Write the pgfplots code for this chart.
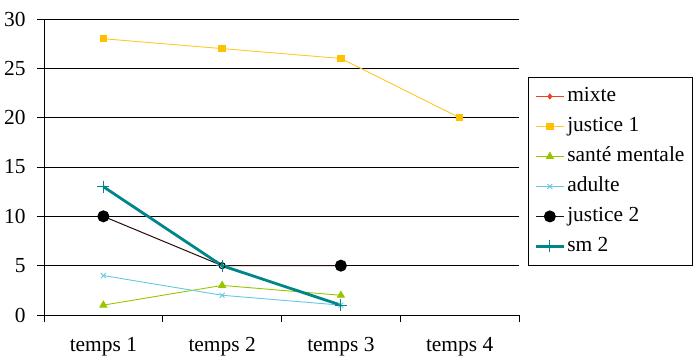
\documentclass[border=0pt]{standalone}
\usepackage{pgfplots}
\pgfplotsset{compat=1.18}
\usepackage{fontspec}
\setmainfont{Liberation Serif}
\definecolor{cmixte}{HTML}{F04020}
\definecolor{cjust}{HTML}{FFC000}
\definecolor{cjustl}{HTML}{FFC82A}
\definecolor{csante}{HTML}{99C400}
\definecolor{cadulte}{HTML}{66C8E0}
\definecolor{cjust2}{HTML}{2A0A0A}
\definecolor{csm}{HTML}{00868A}
\begin{document}
\begin{tikzpicture}
\begin{axis}[
  name=ax,
  scale only axis,
  width=475bp, height=296bp,
  xmin=0.5, xmax=4.5, ymin=0, ymax=30,
  axis x line*=bottom, axis y line*=left,
  axis line style={black, line width=0.9bp, -},
  xtick={0.5,1.5,2.5,3.5,4.5},
  x tick label as interval,
  xticklabels={temps 1,temps 2,temps 3,temps 4},
  ytick={0,5,...,30},
  ymajorgrids,
  grid style={black, line width=0.9bp},
  tick align=outside,
  major tick length=7bp,
  tick style={black, line width=0.9bp},
  /pgf/number format/assume math mode=true,
  tick label style={font=\fontsize{21.5}{24}\selectfont},
  xticklabel style={yshift=-12bp},
  yticklabel style={xshift=-8bp},
  legend cell align=left,
  legend style={at={(1.019,0.485)}, anchor=west, draw=black, line width=0.9bp,
    font=\fontsize{21.5}{24}\selectfont, row sep=10bp, inner xsep=6bp, inner ysep=9bp,
    nodes={inner xsep=2bp, inner ysep=0bp, text height=15bp, text depth=5bp}},
  legend image code/.code={\draw[mark repeat=2,mark phase=2] plot coordinates {(0bp,0bp)(14bp,0bp)(28bp,0bp)};},
]
\addlegendimage{cmixte, line width=0.9bp, mark=diamond*, mark size=2.5bp}
\addlegendentry{mixte}
\addplot[cjustl, line width=0.9bp, mark=square*, mark size=3.2bp, mark options={cjust}] coordinates {(1,28) (2,27) (3,26) (4,20)};
\addlegendentry{justice 1}
\addplot[csante, line width=0.9bp, mark=triangle*, mark size=4bp] coordinates {(1,1) (2,3) (3,2)};
\addlegendentry{santé mentale}
\addplot[cadulte, line width=0.9bp, mark=x, mark size=3.5bp] coordinates {(1,4) (2,2) (3,1)};
\addlegendentry{adulte}
\addlegendimage{cjust2, line width=1bp, mark=*, mark size=5.5bp, mark options={black, fill=black}}
\addlegendentry{justice 2}
\addplot[forget plot, cjust2, line width=1bp, mark=*, mark size=5.5bp, mark indices={1,3}, mark options={black, fill=black}] coordinates {(1,10) (2,5) (3,5)};
\addplot[forget plot, only marks, mark=o, mark size=3bp, mark options={black, line width=1bp}] coordinates {(2,5)};
\addplot[csm, line width=2.8bp, mark=+, mark size=6bp, mark options={line width=0.9bp}] coordinates {(1,13) (2,5) (3,1)};
\addlegendentry{sm 2}
\end{axis}
\path ([xshift=-44bp,yshift=-48bp]ax.south west) rectangle ([xshift=181bp,yshift=19bp]ax.north east);
\end{tikzpicture}
\end{document}
